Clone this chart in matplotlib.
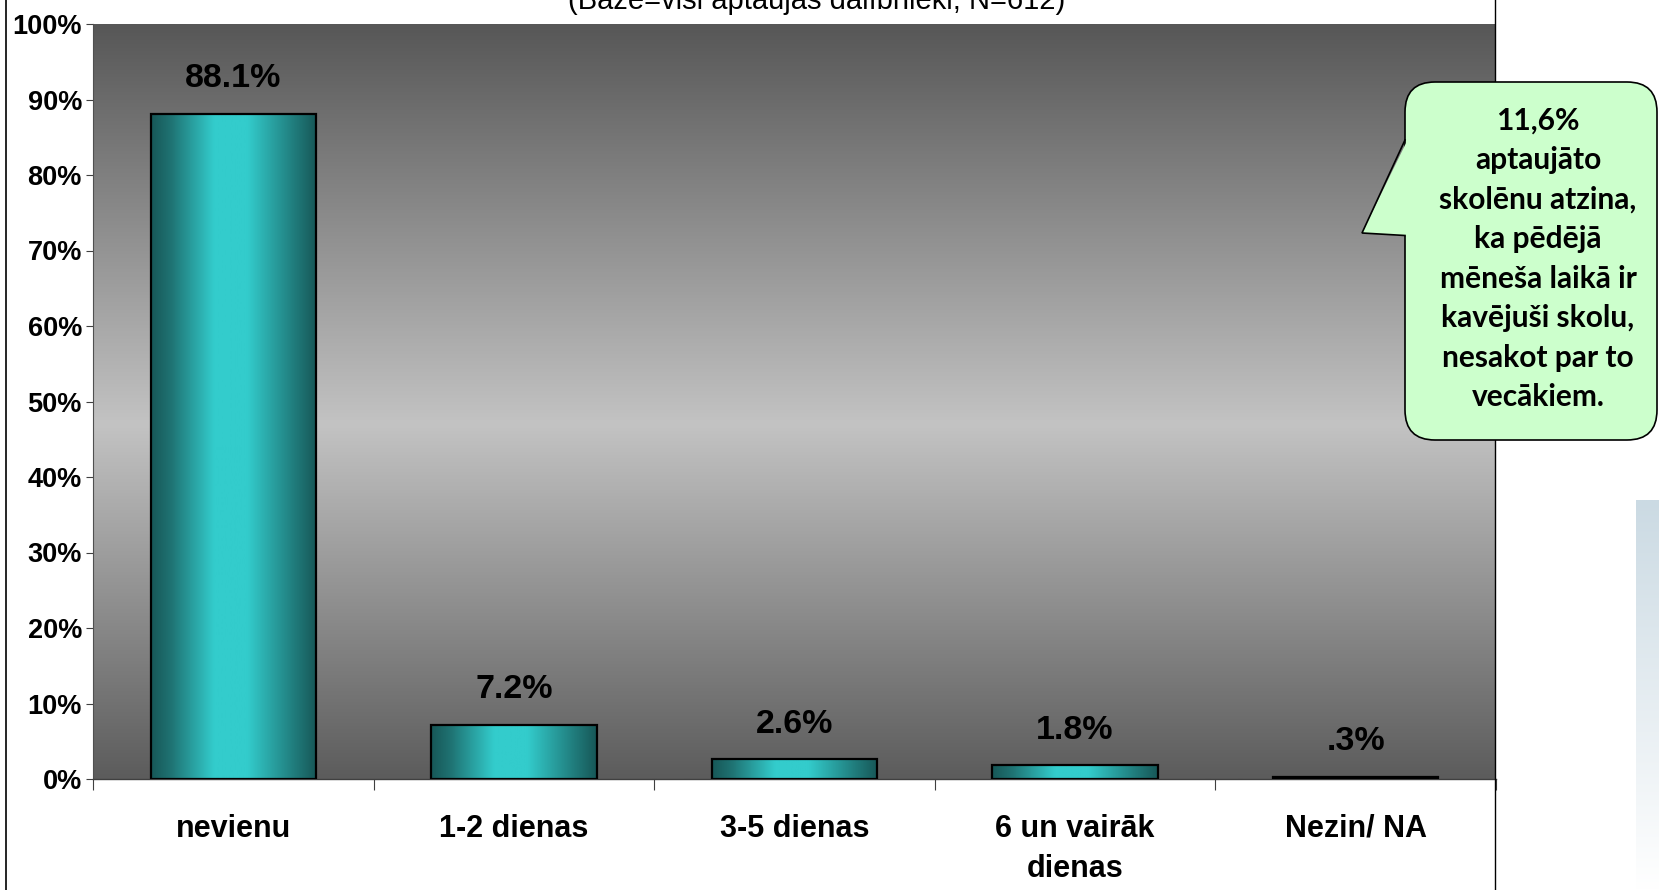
import numpy as np
import matplotlib
matplotlib.use("Agg")
import matplotlib.pyplot as plt
from matplotlib.colors import LinearSegmentedColormap
from matplotlib.patches import FancyBboxPatch, Polygon

# ---- data ----
categories = ["nevienu", "1-2 dienas", "3-5 dienas", "6 un vairāk\ndienas", "Nezin/ NA"]
values = [88.1, 7.2, 2.6, 1.8, 0.3]
y_ticks = [0, 10, 20, 30, 40, 50, 60, 70, 80, 90, 100]
y_tick_labels = [f"{t}%" for t in y_ticks]
title_text = "(Bāze=visi aptaujas dalībnieki, N=612)"
callout_text = ("11,6%\naptaujāto\nskolēnu atzina,\nka pēdējā\nmēneša laikā ir\n"
                "kavējuši skolu,\nnesakot par to\nvecākiem.")


def fmt_val(v):
    s = f"{v:.1f}%"
    if s.startswith("0"):
        s = s[1:]
    return s


FONT = ["Liberation Sans", "DejaVu Sans"]
W, H = 1659, 890
fig = plt.figure(figsize=(W / 100, H / 100), dpi=100)
fig.patch.set_facecolor("white")

ax = fig.add_axes([93 / W, 1 - 779 / H, (1496 - 93) / W, (779 - 24) / H])
x = np.arange(len(categories))
ax.set_xlim(-0.5, len(categories) - 0.5)
ax.set_ylim(0, 100)

# background gradient of the plot area
bg_cmap = LinearSegmentedColormap.from_list(
    "bg", [(0.0, "#5c5c5c"), (0.47, "#c3c3c3"), (1.0, "#575757")])
grad = np.linspace(0, 1, 256).reshape(-1, 1)
ax.imshow(grad, cmap=bg_cmap, origin="lower", aspect="auto",
          extent=[-0.5, len(categories) - 0.5, 0, 100], zorder=0)

# bars with horizontal gradient
bar_cmap = LinearSegmentedColormap.from_list(
    "bar", [(0.0, "#175757"), (0.12, "#1f7373"), (0.38, "#33cccc"),
            (0.58, "#33cccc"), (0.85, "#218080"), (1.0, "#175757")])
bars = ax.bar(x, values, width=0.59, facecolor="none", edgecolor="black",
              linewidth=1.6, zorder=3)
hgrad = np.linspace(0, 1, 256).reshape(1, -1)
for b in bars:
    x0, y0 = b.get_x(), b.get_y()
    im = ax.imshow(hgrad, cmap=bar_cmap, aspect="auto",
                   extent=[x0, x0 + b.get_width(), y0, y0 + b.get_height()],
                   zorder=2)
    im.set_clip_path(b)

# value labels
for xi, v in zip(x, values):
    ax.annotate(fmt_val(v), (xi, v), xytext=(0, 19), textcoords="offset points",
                ha="center", va="baseline", fontsize=24.5, fontweight="bold",
                family=FONT, color="black", zorder=4)

# axes styling
for s in ["top", "right"]:
    ax.spines[s].set_visible(False)
ax.spines["left"].set_color("#505050")
ax.spines["bottom"].set_color("#404040")
ax.spines["bottom"].set_linewidth(1.0)
ax.spines["left"].set_linewidth(0.8)

ax.set_yticks(y_ticks)
ax.set_yticklabels(y_tick_labels, fontsize=19.5, fontweight="bold", family=FONT)
ax.tick_params(axis="y", length=5, width=0.8, color="#404040", pad=3)

ax.set_xticks(np.arange(-0.5, len(categories), 1.0))
ax.set_xticklabels([])
ax.tick_params(axis="x", which="major", length=8, width=0.8, color="#404040")
ax.set_xticks(x, minor=True)
ax.set_xticklabels(categories, minor=True, fontsize=22, fontweight="bold",
                   family=FONT, linespacing=1.45)
ax.tick_params(axis="x", which="minor", length=0, pad=25)

# ---- overlay in pixel coordinates for frame, title and callout ----
ov = fig.add_axes([0, 0, 1, 1], zorder=5)
ov.set_xlim(0, W)
ov.set_ylim(H, 0)
ov.axis("off")
ov.patch.set_alpha(0)

ov.plot([6, 6], [0, H], color="black", lw=1.2)
ov.plot([1495, 1495], [0, H], color="black", lw=1.0)

ov.text(817, 9, title_text, ha="center", va="baseline", fontsize=21,
        family=FONT, color="black")

# faint page strip on the right
strip = np.linspace(0, 1, 256).reshape(-1, 1)
strip_cmap = LinearSegmentedColormap.from_list("strip", ["#ffffff", "#cbdae3"])
ov.imshow(strip, cmap=strip_cmap, aspect="auto", extent=[1636, W, 500, H],
          origin="upper", zorder=1)

# speech-bubble callout
green = "#ccffcc"
box = FancyBboxPatch((1405, 82), 252, 358,
                     boxstyle="round,pad=0,rounding_size=30",
                     facecolor=green, edgecolor="black", linewidth=1.2, zorder=6)
ov.add_patch(box)
ov.add_patch(Polygon([(1408, 139), (1362, 233), (1408, 236)], closed=True,
                     facecolor=green, edgecolor="none", zorder=7))
ov.plot([1405, 1362, 1405], [140, 233, 235.5], color="black", lw=1.2,
        zorder=8, solid_joinstyle="miter")
ov.text(1538, 259, callout_text, ha="center", va="center", fontsize=21.5,
        fontweight="bold", family=["Lato", "Open Sans", "DejaVu Sans"],
        linespacing=1.5, color="black", zorder=9)

fig.savefig("out.png", dpi=100)
